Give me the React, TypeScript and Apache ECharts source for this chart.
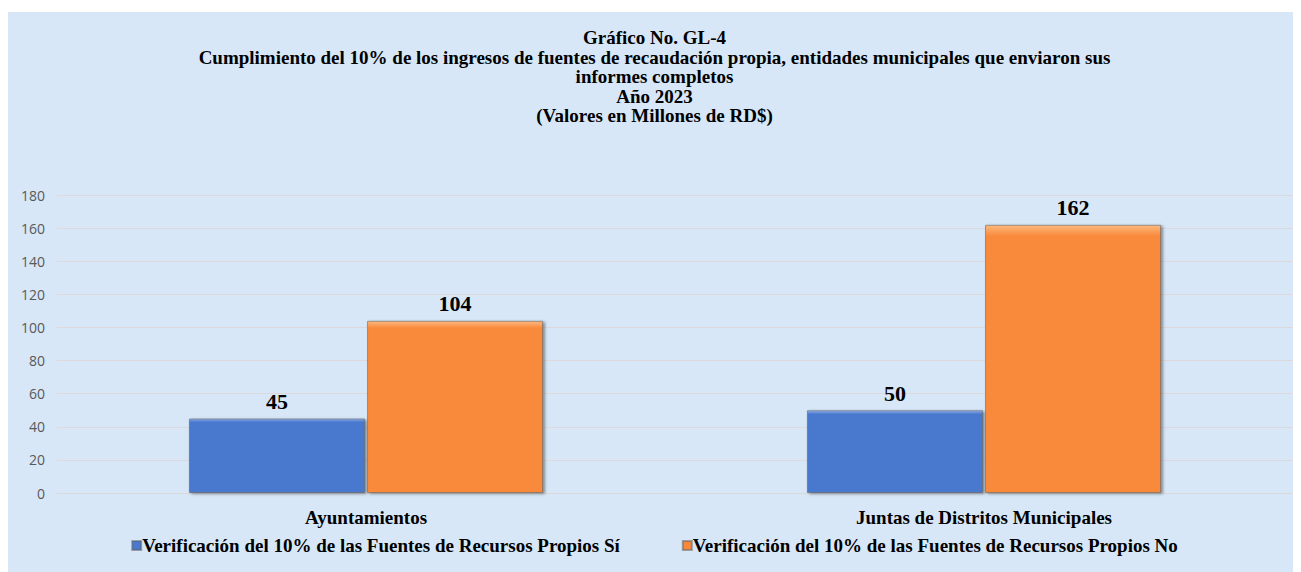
import React, { useEffect, useRef } from "react";
import * as echarts from "echarts";

const categories = ["Ayuntamientos", "Juntas de Distritos Municipales"];
const seriesNames = [
  "Verificación del 10% de las Fuentes de Recursos Propios Sí",
  "Verificación del 10% de las Fuentes de Recursos Propios No",
];
const valuesSi = [45, 50];
const valuesNo = [104, 162];
const titleLines = [
  "Gráfico No. GL-4",
  "Cumplimiento del 10% de los ingresos de fuentes de recaudación propia, entidades municipales que enviaron sus",
  "informes completos",
  "Año 2023",
  "(Valores en Millones de RD$)",
];

const serif = "'Liberation Serif', 'Times New Roman', serif";

export default function App() {
  const ref = useRef<HTMLDivElement>(null);
  useEffect(() => {
    if (!ref.current) return;
    const chart = echarts.init(ref.current, undefined, { renderer: "svg" });
    const barStyle = (c1: string, c2: string) => ({
      color: {
        type: "linear",
        x: 0,
        y: 0,
        x2: 0,
        y2: 1,
        colorStops: [
          { offset: 0, color: c1 },
          { offset: 0.04, color: c2 },
          { offset: 1, color: c2 },
        ],
      },
      borderColor: "rgba(90,90,90,0.5)",
      borderWidth: 1,
      shadowColor: "rgba(0,0,0,0.45)",
      shadowBlur: 3,
      shadowOffsetX: 2,
      shadowOffsetY: 1,
    });
    const label = {
      show: true,
      position: "top",
      distance: 6,
      fontFamily: serif,
      fontWeight: "bold",
      fontSize: 22,
      color: "#000",
    };
    chart.setOption({
      animation: false,
      backgroundColor: "#d7e7f7",
      title: {
        text: titleLines.join("\n"),
        left: "center",
        top: 11,
        textStyle: {
          fontFamily: serif,
          fontWeight: "bold",
          fontSize: 19,
          lineHeight: 19.5,
          color: "#000",
        },
      },
      legend: {
        bottom: 12,
        left: "center",
        itemWidth: 9,
        itemHeight: 9,
        itemGap: 62,
        icon: "rect",
        textStyle: {
          fontFamily: serif,
          fontWeight: "bold",
          fontSize: 19,
          color: "#000",
          padding: [0, 0, 0, -4],
        },
        data: seriesNames,
      },
      grid: { left: 49, right: 8, top: 183, bottom: 79 },
      xAxis: {
        type: "category",
        data: categories,
        axisLine: { lineStyle: { color: "#d9d9d9" } },
        axisTick: { show: false },
        axisLabel: {
          margin: 15,
          fontFamily: serif,
          fontWeight: "bold",
          fontSize: 19,
          color: "#000",
        },
      },
      yAxis: {
        type: "value",
        min: 0,
        max: 180,
        interval: 20,
        axisLine: { show: false },
        axisTick: { show: false },
        splitLine: { lineStyle: { color: "#dcd8dc", width: 1 } },
        axisLabel: {
          margin: 12,
          fontFamily: "'Open Sans', 'DejaVu Sans', sans-serif",
          fontSize: 14,
          color: "#595959",
        },
      },
      series: [
        {
          name: seriesNames[0],
          type: "bar",
          data: valuesSi,
          barWidth: 176,
          barGap: "1.2%",
          itemStyle: barStyle("#8fb0e8", "#4a79cf"),
          label,
        },
        {
          name: seriesNames[1],
          type: "bar",
          data: valuesNo,
          barWidth: 176,
          itemStyle: barStyle("#fbb87f", "#fa8a3b"),
          label,
        },
      ],
    });
    return () => chart.dispose();
  }, []);
  return (
    <div style={{ paddingTop: 4 }}>
      <div ref={ref} style={{ width: 1293, height: 560 }} />
    </div>
  );
}
